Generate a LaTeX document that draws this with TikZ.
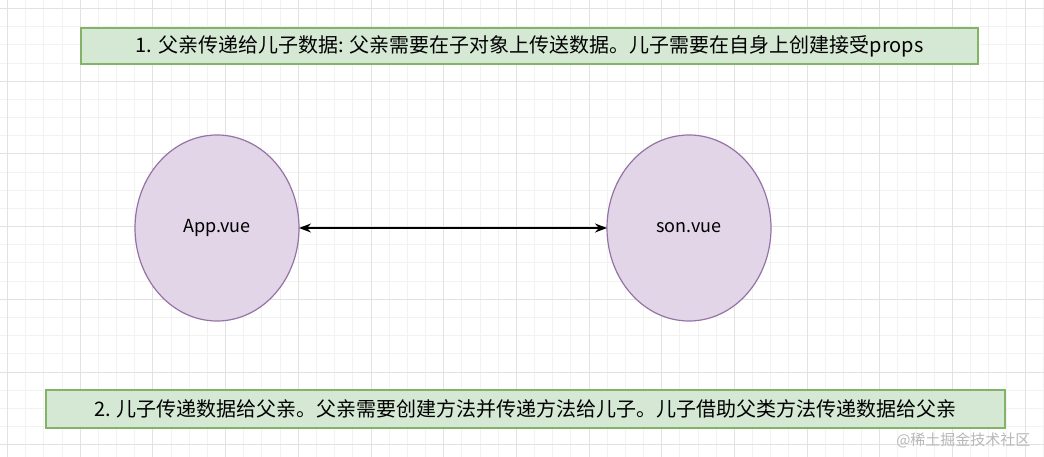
\documentclass[tikz,border=0pt]{standalone}
\usepackage{fontspec}
\setmainfont{Noto Sans CJK SC}
\usetikzlibrary{arrows.meta}
\definecolor{gfill}{HTML}{D5E8D4}\definecolor{gline}{HTML}{82B366}
\definecolor{pfill}{HTML}{E1D5E7}\definecolor{pline}{HTML}{9673A6}
\definecolor{minorg}{HTML}{F2F2F2}\definecolor{majorg}{HTML}{E2E2E2}
\tikzset{note/.style={draw=gline,fill=gfill,line width=1.2pt,inner sep=0pt,font=\fontsize{20}{24}\selectfont},
 circ/.style={draw=pline,fill=pfill,line width=1.2pt,ellipse,font=\fontsize{18}{22}\selectfont}}
\begin{document}
\begin{tikzpicture}[x=1pt,y=-1pt]
\useasboundingbox (0,0) rectangle (1044,457);
\fill[white] (0,0) rectangle (1044,457);
\foreach \i in {-1,...,57}{\draw[minorg,line width=0.8pt] ({7.5+18.17*\i},0) -- ++(0,457);}
\foreach \i in {-1,...,25}{\draw[minorg,line width=0.8pt] (0,{8.5+18.17*\i}) -- ++(1044,0);}
\foreach \i in {0,...,14}{\draw[majorg,line width=1pt] ({7.5+72.7*\i},0) -- ++(0,457);}
\foreach \i in {0,...,6}{\draw[majorg,line width=1pt] (0,{8.5+72.7*\i}) -- ++(1044,0);}
\node[note,minimum width=897pt,minimum height=36pt] (t1) at (529.5,46) {1. 父亲传递给儿子数据: 父亲需要在子对象上传送数据。儿子需要在自身上创建接受props};
\node[note,minimum width=959pt,minimum height=38pt] (t2) at (525.5,409) {2. 儿子传递数据给父亲。父亲需要创建方法并传递方法给儿子。儿子借助父类方法传递数据给父亲};
\draw[draw=pline,fill=pfill,line width=1.2pt] (217,228) ellipse [x radius=82, y radius=93];
\draw[draw=pline,fill=pfill,line width=1.2pt] (689,228) ellipse [x radius=82, y radius=93];
\node[font=\fontsize{18}{22}\selectfont] (app) at (217,228) {App.vue};
\node[font=\fontsize{18}{22}\selectfont] (son) at (689,228) {son.vue};
\coordinate (a) at (299,228); \coordinate (b) at (607,228);
\draw[line width=1.5pt,{Stealth[length=12pt,width=9pt]}-{Stealth[length=12pt,width=9pt]}] (a) -- (b);
\node[text=black!28,font=\fontsize{15}{18}\selectfont,anchor=east] (wm) at (1034,440) {@稀土掘金技术社区};
\end{tikzpicture}
\end{document}
